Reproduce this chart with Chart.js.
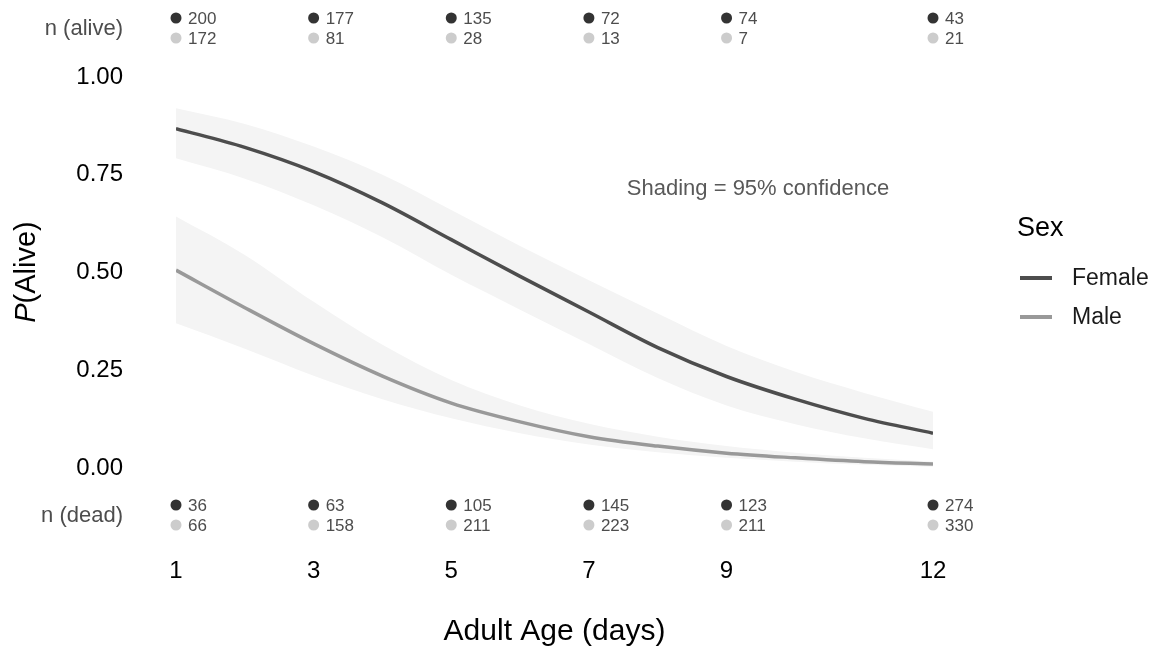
<!DOCTYPE html>
<html>
<head>
<meta charset="utf-8">
<script src="https://cdn.jsdelivr.net/npm/chart.js@4.4.0/dist/chart.umd.min.js"></script>
<style>
  html, body { margin: 0; padding: 0; background: #fff; }
  #wrap { width: 1159px; height: 650px; }
</style>
</head>
<body>
<div id="wrap"><canvas id="grafica" width="1159" height="650"></canvas></div>
<script>
// Datos
const dias = [1, 2, 3, 4, 5, 6, 7, 8, 9, 10, 11, 12];

const hembraAjuste = [0.868, 0.820, 0.758, 0.678, 0.584, 0.490, 0.399, 0.308, 0.234, 0.176, 0.127, 0.089];
const hembraInf    = [0.792, 0.740, 0.672, 0.590, 0.494, 0.405, 0.317, 0.230, 0.160, 0.112, 0.076, 0.048];
const hembraSup    = [0.920, 0.880, 0.822, 0.750, 0.660, 0.568, 0.480, 0.395, 0.312, 0.246, 0.192, 0.144];

const machoAjuste = [0.506, 0.410, 0.318, 0.235, 0.166, 0.118, 0.080, 0.056, 0.038, 0.026, 0.016, 0.010];
const machoInf    = [0.370, 0.305, 0.236, 0.176, 0.127, 0.089, 0.060, 0.040, 0.026, 0.016, 0.008, 0.003];
const machoSup    = [0.643, 0.545, 0.425, 0.315, 0.225, 0.160, 0.113, 0.080, 0.056, 0.039, 0.026, 0.016];

// conteos arriba y abajo del grafico
const diasConteo   = [1, 3, 5, 7, 9, 12];
const vivosHembra  = [200, 177, 135, 72, 74, 43];
const vivosMacho   = [172, 81, 28, 13, 7, 21];
const muertosHembra = [36, 63, 105, 145, 123, 274];
const muertosMacho  = [66, 158, 211, 223, 211, 330];

const ticksX = [1, 3, 5, 7, 9, 12];
const ticksY = [0, 0.25, 0.5, 0.75, 1];

const FUENTE = '"Liberation Sans", Arial, sans-serif';
const GRIS_OSCURO = '#4d4d4d';
const GRIS_CLARO = '#999999';
const SOMBRA = '#f4f4f4';

function puntos(valores) {
    return dias.map((d, i) => ({ x: d, y: valores[i] }));
}

// Plugin para textos, conteos y leyenda
const anotaciones = {
    id: 'anotaciones',
    afterDraw(chart) {
        const ctx = chart.ctx;
        const ejeX = chart.scales.x;
        const area = chart.chartArea;
        ctx.save();

        function fila(valores, colorPunto, yPos) {
            valores.forEach((v, i) => {
                const px = ejeX.getPixelForValue(diasConteo[i]);
                ctx.fillStyle = colorPunto;
                ctx.beginPath();
                ctx.arc(px, yPos, 5.5, 0, Math.PI * 2);
                ctx.fill();
                ctx.fillStyle = '#4d4d4d';
                ctx.font = '17px ' + FUENTE;
                ctx.textAlign = 'left';
                ctx.textBaseline = 'middle';
                ctx.fillText(String(v), px + 12, yPos + 1);
            });
        }

        fila(vivosHembra, '#333333', 18);
        fila(vivosMacho, '#cccccc', 38);
        fila(muertosHembra, '#333333', 505);
        fila(muertosMacho, '#cccccc', 525);

        ctx.fillStyle = '#4d4d4d';
        ctx.font = '22px ' + FUENTE;
        ctx.textAlign = 'right';
        ctx.textBaseline = 'middle';
        ctx.fillText('n (alive)', 123, 29);
        ctx.fillText('n (dead)', 123, 516);

        // nota de sombreado
        ctx.fillStyle = '#595959';
        ctx.font = '22px ' + FUENTE;
        ctx.textAlign = 'center';
        ctx.fillText('Shading = 95% confidence', 758, 189);

        // titulo eje x
        ctx.fillStyle = '#000';
        ctx.font = '30px ' + FUENTE;
        ctx.fillText('Adult Age (days)', (area.left + area.right) / 2, 632);

        // titulo eje y con P en cursiva
        ctx.save();
        ctx.translate(27, 272);
        ctx.rotate(-Math.PI / 2);
        ctx.font = 'italic 29px ' + FUENTE;
        const anchoP = ctx.measureText('P').width;
        ctx.font = '29px ' + FUENTE;
        const anchoResto = ctx.measureText('(Alive)').width;
        const inicio = -(anchoP + anchoResto) / 2;
        ctx.textAlign = 'left';
        ctx.font = 'italic 29px ' + FUENTE;
        ctx.fillText('P', inicio, 0);
        ctx.font = '29px ' + FUENTE;
        ctx.fillText('(Alive)', inicio + anchoP, 0);
        ctx.restore();

        // leyenda
        ctx.textAlign = 'left';
        ctx.fillStyle = '#000';
        ctx.font = '27px ' + FUENTE;
        ctx.fillText('Sex', 1017, 229);
        ctx.font = '23px ' + FUENTE;
        [['Female', GRIS_OSCURO, 278], ['Male', GRIS_CLARO, 317]].forEach(([txt, col, yy]) => {
            ctx.strokeStyle = col;
            ctx.lineWidth = 4;
            ctx.beginPath();
            ctx.moveTo(1020, yy);
            ctx.lineTo(1052, yy);
            ctx.stroke();
            ctx.fillStyle = '#1a1a1a';
            ctx.fillText(txt, 1072, yy + 1);
        });

        ctx.restore();
    }
};

const banda = { pointRadius: 0, borderWidth: 0, cubicInterpolationMode: 'monotone', order: 2 };
const linea = { pointRadius: 0, borderWidth: 3.5, fill: false, cubicInterpolationMode: 'monotone', order: 0 };

const config = {
    type: 'line',
    data: {
        datasets: [
            Object.assign({ label: 'femaleLo', data: puntos(hembraInf), fill: false }, banda),
            Object.assign({ label: 'femaleHi', data: puntos(hembraSup), fill: '-1', backgroundColor: SOMBRA }, banda),
            Object.assign({ label: 'maleLo', data: puntos(machoInf), fill: false }, banda),
            Object.assign({ label: 'maleHi', data: puntos(machoSup), fill: '-1', backgroundColor: SOMBRA }, banda),
            Object.assign({ label: 'Female', data: puntos(hembraAjuste), borderColor: GRIS_OSCURO }, linea),
            Object.assign({ label: 'Male', data: puntos(machoAjuste), borderColor: GRIS_CLARO }, linea)
        ]
    },
    options: {
        responsive: false,
        animation: false,
        layout: { padding: { top: 77, right: 226, bottom: 0, left: 0 } },
        plugins: {
            legend: { display: false },
            tooltip: { enabled: false }
        },
        scales: {
            x: {
                type: 'linear',
                min: 1,
                max: 12,
                grid: { display: false, drawTicks: false },
                border: { display: false },
                afterBuildTicks: (s) => { s.ticks = ticksX.map(v => ({ value: v })); },
                afterFit: (s) => { s.height = 182; },
                ticks: {
                    padding: 89,
                    color: '#000',
                    font: { family: FUENTE, size: 24 },
                    maxRotation: 0
                }
            },
            y: {
                min: 0,
                max: 1,
                grid: { display: false, drawTicks: false },
                border: { display: false },
                afterBuildTicks: (s) => { s.ticks = ticksY.map(v => ({ value: v })); },
                afterFit: (s) => { s.width = 176; },
                ticks: {
                    padding: 53,
                    color: '#000',
                    font: { family: FUENTE, size: 24 },
                    callback: (v) => Number(v).toFixed(2)
                }
            }
        }
    },
    plugins: [anotaciones]
};

var grafica = new Chart(document.getElementById('grafica'), config);
</script>
</body>
</html>
